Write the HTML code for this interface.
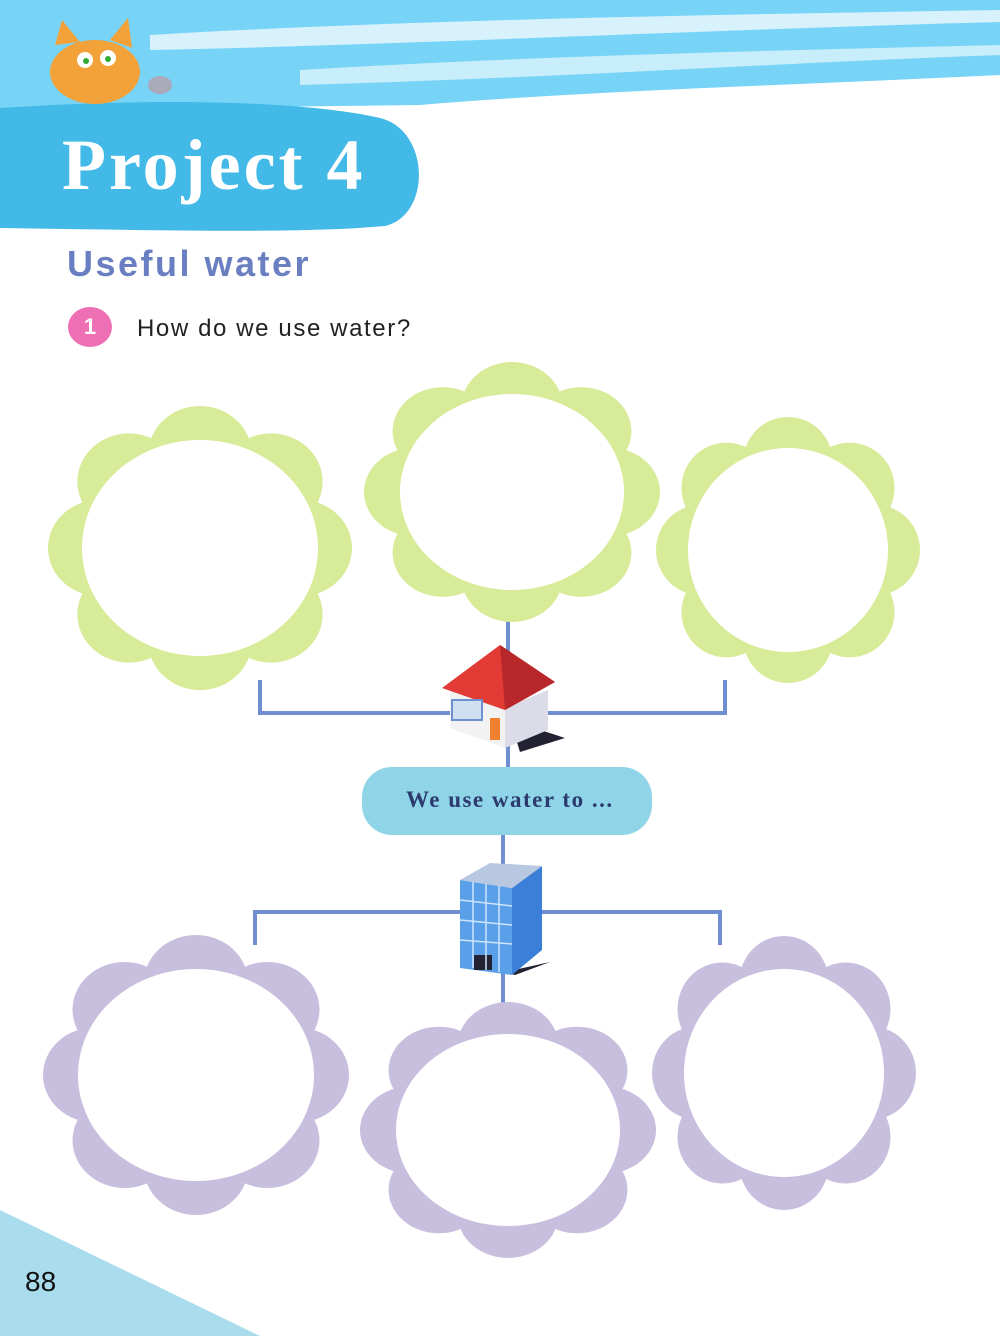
<!DOCTYPE html>
<html><head><meta charset="utf-8"><style>
html,body{margin:0;padding:0;background:#fff}
body{width:1000px;height:1336px;position:relative;overflow:hidden;font-family:"Liberation Sans",sans-serif}
.t{position:absolute;white-space:nowrap}
</style></head><body>
<svg width="1000" height="1336" style="position:absolute;left:0;top:0">
<defs>
<g id="cl">
<circle cx="0" cy="0" r="0.74"/>
<circle cx="0.66" cy="0" r="0.34"/><circle cx="0.467" cy="0.467" r="0.34"/>
<circle cx="0" cy="0.66" r="0.34"/><circle cx="-0.467" cy="0.467" r="0.34"/>
<circle cx="-0.66" cy="0" r="0.34"/><circle cx="-0.467" cy="-0.467" r="0.34"/>
<circle cx="0" cy="-0.66" r="0.34"/><circle cx="0.467" cy="-0.467" r="0.34"/>
</g>
</defs>
<path d="M0 0H1000V75C800 85 600 90 420 105L0 110Z" fill="#78d4f6"/>
<path d="M150 35C400 20 700 15 1000 10V22C700 30 400 45 150 50Z" fill="#fff" opacity="0.7"/>
<path d="M300 70C550 55 800 50 1000 45V55C800 62 550 78 300 85Z" fill="#fff" opacity="0.6"/>
<path d="M0 108C150 98 300 100 380 118C430 130 432 215 385 226C300 234 150 230 0 228Z" fill="#43b9e7"/>
<ellipse cx="95" cy="72" rx="45" ry="32" fill="#f3a23a"/>
<path d="M55 45L62 20L80 42Z M110 40L128 18L132 48Z" fill="#f3a23a"/>
<circle cx="85" cy="60" r="8" fill="#fff"/><circle cx="108" cy="58" r="8" fill="#fff"/>
<circle cx="86" cy="61" r="3" fill="#3a3"/><circle cx="108" cy="59" r="3" fill="#3a3"/>
<ellipse cx="160" cy="85" rx="12" ry="9" fill="#aab"/>
<path d="M0 1210L260 1336H0Z" fill="#a9dced"/>
<g stroke="#6f8fd0" stroke-width="4" fill="none">
<path d="M260 680V713H725V680"/><path d="M508 615V770"/>
<path d="M255 945V912H720V945"/><path d="M503 835V1005"/>
</g>
<g fill="#d8eb98">
<use href="#cl" transform="translate(200,548) scale(152,142)"/>
<use href="#cl" transform="translate(512,492) scale(148,130)"/>
<use href="#cl" transform="translate(788,550) scale(132,133)"/>
</g>
<g fill="#c8bfdf">
<use href="#cl" transform="translate(196,1075) scale(153,140)"/>
<use href="#cl" transform="translate(508,1130) scale(148,128)"/>
<use href="#cl" transform="translate(784,1073) scale(132,137)"/>
</g>
<g fill="#fff">
<ellipse cx="200" cy="548" rx="118" ry="108"/>
<ellipse cx="512" cy="492" rx="112" ry="98"/>
<ellipse cx="788" cy="550" rx="100" ry="102"/>
<ellipse cx="196" cy="1075" rx="118" ry="106"/>
<ellipse cx="508" cy="1130" rx="112" ry="96"/>
<ellipse cx="784" cy="1073" rx="100" ry="104"/>
</g>
<path d="M510 720L565 738L520 752Z" fill="#223"/>
<path d="M450 690L505 708V748L450 728Z" fill="#f2f2f2"/>
<path d="M505 708L548 690V730L505 748Z" fill="#dcdce8"/>
<path d="M442 688L500 645L555 682L505 710Z" fill="#e23a35"/>
<path d="M500 645L555 682L505 710Z" fill="#b8282a"/>
<rect x="452" y="700" width="30" height="20" fill="#cfe0f2" stroke="#6f8fd0" stroke-width="2"/>
<rect x="490" y="718" width="10" height="22" fill="#f08030"/>
<path d="M505 972L550 962L515 975Z" fill="#223"/>
<path d="M460 880L512 888V975L460 968Z" fill="#5aa0e8"/>
<path d="M512 888L542 866V950L512 975Z" fill="#3c7fd8"/>
<path d="M460 880L490 863L542 866L512 888Z" fill="#b8c8e0"/>
<rect x="474" y="955" width="18" height="15" fill="#223"/>
<g stroke="#cfe4ff" stroke-width="1.5"><path d="M460 900L512 906M460 920L512 925M460 940L512 944M473 882V968M486 884V970M499 886V972"/></g>
<rect x="362" y="767" width="290" height="68" rx="30" fill="#8fd4e7"/>
</svg>
<div class="t" style="left:62px;top:124px;font:bold 72px 'Liberation Serif',serif;color:#fff;letter-spacing:3px">Project 4</div>
<div class="t" style="left:67px;top:243px;font:bold 36px 'Liberation Sans',sans-serif;color:#6a7fc2;letter-spacing:2.5px">Useful water</div>
<div class="t" style="left:68px;top:307px;width:44px;height:40px;border-radius:50%;background:#ef6fb4;color:#fff;font:bold 22px 'Liberation Sans',sans-serif;text-align:center;line-height:40px">1</div>
<div class="t" style="left:137px;top:315px;font:24px 'Liberation Sans',sans-serif;color:#222;letter-spacing:1.6px">How do we use water?</div>
<div class="t" style="left:406px;top:787px;font:bold 23px 'Liberation Serif',serif;color:#2c3a6e;letter-spacing:1.5px">We use water to ...</div>
<div class="t" style="left:25px;top:1266px;font:28px 'Liberation Sans',sans-serif;color:#111">88</div>
</body></html>
